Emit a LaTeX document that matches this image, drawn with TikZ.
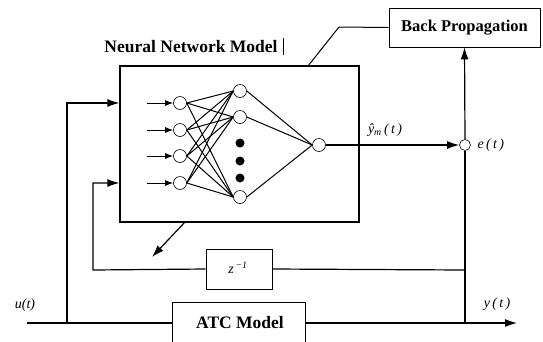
\documentclass[tikz,border=0pt]{standalone}
\usepackage{fontspec}
\setmainfont{Liberation Serif}
\usetikzlibrary{arrows.meta}
\begin{document}
\begin{tikzpicture}[x=1pt,y=-1pt,
  wire/.style={line width=1.2pt},
  arr/.style={wire,-{Latex[length=12pt,width=8pt]}},
  sarr/.style={line width=1pt,-{Latex[length=8pt,width=6pt]}},
  neuron/.style={circle,draw,line width=0.6pt,fill=white,minimum size=13pt,inner sep=0pt},
  dotn/.style={circle,fill=black,minimum size=9pt,inner sep=0pt},
  blk/.style={draw,line width=0.7pt,inner sep=0pt},
  ttl/.style={font=\bfseries\fontsize{17.5}{20}\selectfont},
  lbl/.style={font=\itshape\fontsize{14}{16}\selectfont}]
\clip (0,0) rectangle (543,341);
\fill[white] (0,0) rectangle (543,341);

% blocks
\node[blk,line width=1.2pt,minimum width=239pt,minimum height=156pt] (nn) at (239.5,144) {};
\node[ttl] (nntitle) at (191,47) {Neural Network Model};
\draw[line width=0.5pt] (283,38) -- (283,55);
\node[blk,minimum width=151pt,minimum height=39pt,font=\bfseries\fontsize{16.5}{19}\selectfont] (bp) at (464.5,27.5) {Back Propagation};
\node[blk,minimum width=66pt,minimum height=40pt] (zd) at (239,269) {};
\node[lbl] (zlbl) at (238,268) {z\textsuperscript{\,−1}};
\node[blk,minimum width=133pt,minimum height=42pt] (atc) at (238.5,323) {};
\node[ttl] (atclbl) at (240,323) {ATC Model};

% network neurons
\foreach \i/\y in {1/103,2/130,3/156,4/183}{
  \node[neuron] (i\i) at (180,\y) {};
  \coordinate (s\i) at (147,\y);
}
\node[neuron] (h1) at (240,91) {};
\node[neuron] (h2) at (240,117) {};
\node[neuron] (h3) at (240,197) {};
\node[dotn] (d1) at (240,143) {};
\node[dotn] (d2) at (240,161) {};
\node[dotn] (d3) at (240,178) {};
\node[neuron] (o) at (319,145) {};

\foreach \i in {1,...,4}{
  \draw[sarr] (s\i) -- (i\i.west);
  \foreach \h in {1,2,3}{
    \draw[line width=1pt] (i\i.east) -- (h\h.west);
  }
}
\foreach \h in {1,2,3}{
  \draw[line width=1pt] (h\h.east) -- (o.west);
}

% error node and connections
\node[neuron,minimum size=11pt] (e) at (465,145) {};
\node[lbl,anchor=west] (elbl) at (474,145) {e\,(\,t\,)};
\draw[arr] (o.east) -- (e.west);
\node[lbl] (yhat) at (385,130) {\^{y}\textsubscript{m}\,(\,t\,)};
\draw[arr] (e.north) -- (bp.south);

\coordinate (bpk) at (339,27);
\coordinate (nntop) at (308,66);
\draw[line width=1pt] (bp.west) -- (bpk) -- (nntop);

% plant output and feedback
\coordinate (uin) at (27,323);
\coordinate (uj) at (67,323);
\coordinate (ut) at (67,103);
\coordinate (yout) at (517,323);
\coordinate (yj) at (465,323);
\coordinate (zj) at (465,270);
\coordinate (zb) at (93,270);
\coordinate (zt) at (93,183);

\draw[wire] (uin) -- (atc.west);
\draw[arr] (uj) -- (ut) -- (nn.west |- ut);
\draw[arr] (atc.east) -- (yout);
\draw[wire] (yj) -- (e.south);
\draw[wire] (zj) -- (zd.east);
\draw[arr] (zd.west) -- (zb) -- (zt) -- (nn.west |- zt);

% weight adjustment arrow
\coordinate (wa) at (185,222);
\coordinate (wb) at (152,257);
\draw[arr] (wa) -- (wb);

\node[lbl] (ulbl) at (25,305) {u(t)};
\node[lbl] (ylbl) at (497,304) {y\,(\,t\,)};
\end{tikzpicture}
\end{document}
